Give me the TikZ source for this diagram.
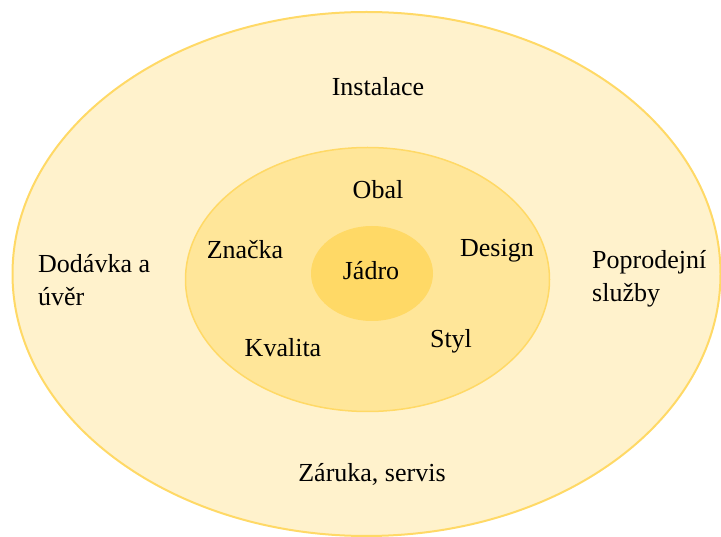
\documentclass[tikz,border=0pt]{standalone}
\usepackage{fontspec}
\setmainfont{Liberation Serif}
\definecolor{outerfill}{HTML}{FFF2CC}
\definecolor{midfill}{HTML}{FFE699}
\definecolor{innerfill}{HTML}{FFD966}
\definecolor{ringline}{HTML}{FFD966}
\begin{document}
\begin{tikzpicture}[x=1pt,y=-1pt,
  ring/.style={draw=ringline,line width=2pt},
  lbl/.style={font=\fontsize{26}{31}\selectfont,inner sep=0pt,text=black},
  lblleft/.style={lbl,align=left,anchor=west}]
\useasboundingbox (0,0) rectangle (721,537);
\path[ring,fill=outerfill] (366.5,274) ellipse [x radius=354, y radius=262];
\path[ring,line width=1.5pt,fill=midfill] (367.5,279.5) ellipse [x radius=182, y radius=132];
\path[fill=innerfill] (372,273.5) ellipse [x radius=61, y radius=47.5];
\node[lbl] (instalace) at (378,87) {Instalace};
\node[lbl] (obal) at (378,190) {Obal};
\node[lbl] (znacka) at (245,250) {Značka};
\node[lbl] (design) at (497,251) {Design};
\node[lbl] (jadro) at (371,271) {Jádro};
\node[lbl] (kvalita) at (283,348) {Kvalita};
\node[lbl] (styl) at (451,341) {Styl};
\node[lblleft] (dodavka) at (38,280) {Dodávka a\\[2pt]úvěr};
\node[lblleft] (poprodejni) at (592,279) {Poprodejní\\[2pt]služby};
\node[lbl] (zaruka) at (372,474) {Záruka, servis};
\end{tikzpicture}
\end{document}
